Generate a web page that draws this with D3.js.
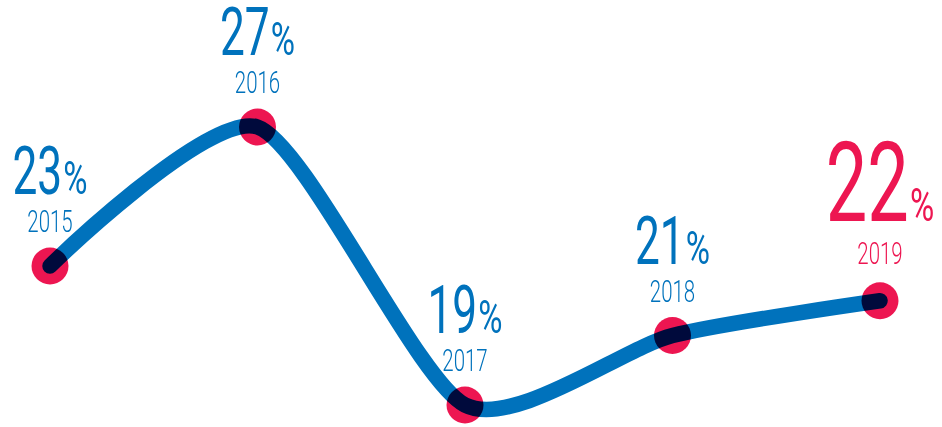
<!DOCTYPE html>
<html>
<head>
<meta charset="utf-8">
<script src="https://cdn.jsdelivr.net/npm/d3@7"></script>
<style>
  body { margin: 0; background: #fff; }
  text { font-family: Roboto, "Liberation Sans", sans-serif; }
</style>
</head>
<body>
<div id="chart"></div>
<script>
// values
var years = ["2015", "2016", "2017", "2018", "2019"];
var shares = [23, 27, 19, 21, 22];
var highlightYear = "2019";

var width = 942, height = 427;
var blue = "#0072bc", red = "#ed1651";
var squeeze = 0.66; // fake a condensed face

var x = d3.scalePoint().domain(years).range([50, 880]);
var y = d3.scaleLinear().domain([19, 27]).range([405, 127]);

var data = years.map(function(d, i) { return {year: d, value: shares[i]}; });

var svg = d3.select("#chart").append("svg")
  .attr("width", width)
  .attr("height", height);

// dots go under the line, the line is multiplied over them
svg.selectAll(".dot")
    .data(data)
  .enter().append("circle")
    .attr("class", "dot")
    .attr("cx", function(d) { return x(d.year); })
    .attr("cy", function(d) { return y(d.value); })
    .attr("r", 18.5)
    .attr("fill", red);

var line = d3.line()
  .x(function(d) { return x(d.year); })
  .y(function(d) { return y(d.value); })
  .curve(d3.curveCardinal.tension(0.3));

svg.append("path")
  .datum(data)
  .attr("d", line)
  .attr("fill", "none")
  .attr("stroke", blue)
  .attr("stroke-width", 15.5)
  .attr("stroke-linecap", "round")
  .attr("stroke-linejoin", "round")
  .style("mix-blend-mode", "multiply");

// labels: big value with a small % and the year under it
data.forEach(function(d) {
  var big = d.year === highlightYear;
  var col = big ? red : blue;
  var px = x(d.year), py = y(d.value);

  svg.append("text")
    .attr("transform", "translate(" + px + "," + (py - (big ? 37 : 34)) + ") scale(" + squeeze + ",1)")
    .attr("text-anchor", "middle")
    .attr("font-size", 31)
    .attr("font-weight", 300)
    .attr("fill", col)
    .text(d.year);

  var g = svg.append("g");
  var num = g.append("text")
    .attr("font-size", big ? 112 : 67)
    .attr("font-weight", 400)
    .attr("fill", col)
    .attr("transform", "scale(" + squeeze + ",1)")
    .text(d.value);
  var nw = num.node().getComputedTextLength() * squeeze;
  var pct = g.append("text")
    .attr("font-size", 46)
    .attr("font-weight", 400)
    .attr("fill", col)
    .attr("transform", "translate(" + (nw + 1) + ",0) scale(0.72,1)")
    .text("%");
  var pw = pct.node().getComputedTextLength() * 0.72;
  g.attr("transform", "translate(" + (px - (nw + 1 + pw) / 2) + "," + (py - (big ? 80 : 72)) + ")");
});
</script>
</body>
</html>
